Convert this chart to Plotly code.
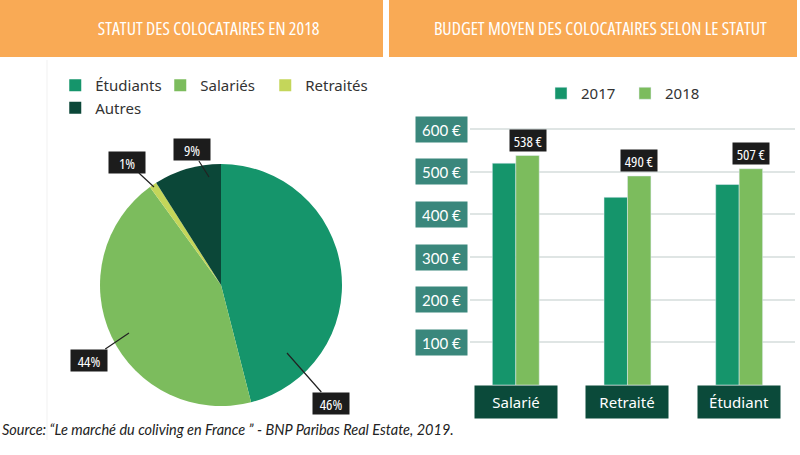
import plotly.graph_objects as go

# --- data ---
statuts = ["Étudiants", "Salariés", "Retraités", "Autres"]
parts = [46, 44, 1, 9]

categories = ["Salarié", "Retraité", "Étudiant"]
budget_2017 = [520, 440, 470]
budget_2018 = [538, 490, 507]
y_ticks = [100, 200, 300, 400, 500, 600]

W, H = 800, 455
ML = 56  # left margin, lets the pie legend wrap onto a 2nd row


def px_x(v):
    return (v - ML) / (W - ML)


def px_y(v):
    return 1 - v / H


GREEN = "#15956b"
LIGHT = "#7cbc5d"
LIME = "#c4d65a"
DARK = "#0b4738"
ORANGE = "#f9aa55"
TEAL = "#3a877c"
BOXDARK = "#0b4a3a"
BLACKBOX = "#1c1c1c"

# Open Sans gets squeezed in the page (see js below)
COND = "Open Sans"

fig = go.Figure()

fig.add_trace(go.Pie(
    labels=statuts, values=parts, sort=False, direction="clockwise", rotation=0,
    marker=dict(colors=[GREEN, LIGHT, LIME, DARK], line=dict(width=0)),
    textinfo="none", hoverinfo="label+percent",
    domain=dict(x=[px_x(100), px_x(342)], y=[px_y(406), px_y(164)]),
    legend="legend",
))

fig.add_trace(go.Bar(x=categories, y=budget_2017, name="2017", marker_color=GREEN, legend="legend2"))
fig.add_trace(go.Bar(x=categories, y=budget_2018, name="2018", marker_color=LIGHT, legend="legend2"))

fig.update_layout(
    width=W, height=H,
    margin=dict(l=ML, r=0, t=0, b=0, autoexpand=False),
    paper_bgcolor="white", plot_bgcolor="white",
    barmode="group", bargap=0.58, bargroupgap=0,
    xaxis=dict(domain=[px_x(470), px_x(795)], range=[-0.41, 2.5], showticklabels=False,
               showgrid=False, zeroline=False, showline=False, ticks="", fixedrange=True),
    yaxis=dict(domain=[px_y(385), px_y(112)], range=[0, 640], tickvals=y_ticks, showticklabels=False,
               gridcolor="#dfe5e4", gridwidth=1.5, zeroline=False, showline=False, ticks=""),
    legend=dict(orientation="h", x=-0.001, xanchor="left", y=px_y(69), yanchor="top",
                entrywidth=60, bgcolor="rgba(0,0,0,0)",
                font=dict(family="Noto Sans", size=15, color="#333")),
    legend2=dict(orientation="h", x=px_x(541), xanchor="left", y=px_y(77), yanchor="top",
                 entrywidth=39, bgcolor="rgba(0,0,0,0)",
                 font=dict(family="Noto Sans", size=15, color="#333")),
    showlegend=True,
)

# orange header bands
fig.add_shape(type="rect", xref="paper", yref="paper", x0=px_x(0), x1=px_x(383),
              y0=px_y(57), y1=px_y(0), fillcolor=ORANGE, line_width=0)
fig.add_shape(type="rect", xref="paper", yref="paper", x0=px_x(389), x1=px_x(797),
              y0=px_y(57), y1=px_y(0), fillcolor=ORANGE, line_width=0)
# faint divider line on the left
fig.add_shape(type="line", xref="paper", yref="paper", x0=px_x(47), x1=px_x(47),
              y0=px_y(60), y1=px_y(440), line=dict(color="#f1f1f1", width=1))

head_font = dict(family=COND, size=18, color="white")
fig.add_annotation(text="STATUT DES COLOCATAIRES EN 2018", xref="paper", yref="paper",
                   x=px_x(208), y=px_y(28), xanchor="center", yanchor="middle",
                   showarrow=False, font=head_font)
fig.add_annotation(text="BUDGET MOYEN DES COLOCATAIRES SELON LE STATUT", xref="paper", yref="paper",
                   x=px_x(600), y=px_y(28), xanchor="center", yanchor="middle",
                   showarrow=False, font=head_font)

# pie percentage callouts
callouts = [  # tip (px) and text offset
    (3, (209, 177), (-17, -27)),
    (2, (154, 187), (-27, -25)),
    (1, (129, 333), (-40, 27)),
    (0, (287, 353), (44, 50)),
]
for idx, (tx, ty), (ax, ay) in callouts:
    fig.add_annotation(text=f"{parts[idx]}%", xref="paper", yref="paper",
                       x=px_x(tx), y=px_y(ty), ax=ax, ay=ay, showarrow=True,
                       arrowhead=0, arrowwidth=1.2, arrowcolor="#222",
                       bgcolor=BLACKBOX, width=33, height=18, borderpad=1.5,
                       font=dict(family=COND, size=15, color="white"))

# y tick label boxes
for v in y_ticks:
    fig.add_annotation(text=f"{v} €", xref="paper", yref="y", x=px_x(441.5), y=v,
                       showarrow=False, bgcolor=TEAL, width=49, height=23, borderpad=1,
                       font=dict(family="Lato", size=15, color="white"))

# category boxes under the bars
for i, c in enumerate(categories):
    fig.add_annotation(text=c, xref="x", yref="y", x=i, y=0, yanchor="top",
                       showarrow=False, bgcolor=BOXDARK, width=80, height=30, borderpad=1,
                       font=dict(family="Noto Sans", size=15, color="white"))

# value boxes above the 2018 bars
for i, v in enumerate(budget_2018):
    fig.add_annotation(text=f"{v} €", xref="x", yref="y", x=i + 0.105, y=v, yanchor="bottom",
                       yshift=4, showarrow=False, bgcolor=BLACKBOX, width=33, height=18, borderpad=1.5,
                       font=dict(family=COND, size=15, color="white"))

fig.add_annotation(text="Source: “Le marché du coliving en France ” - BNP Paribas Real Estate, 2019.",
                   xref="paper", yref="paper", x=px_x(0), y=px_y(440), xanchor="left",
                   showarrow=False, font=dict(family="Lato", size=14.5, color="#222", style="italic"))

js = """
document.body.style.margin='0';
document.querySelectorAll('.annotation-text').forEach(function(t){
  if((t.style.fontFamily || '').indexOf('Open Sans') >= 0){
    t.style.fontStretch = '75%';
  }
});
"""
fig.write_html("out.html", config={"displayModeBar": False}, post_script=js)
